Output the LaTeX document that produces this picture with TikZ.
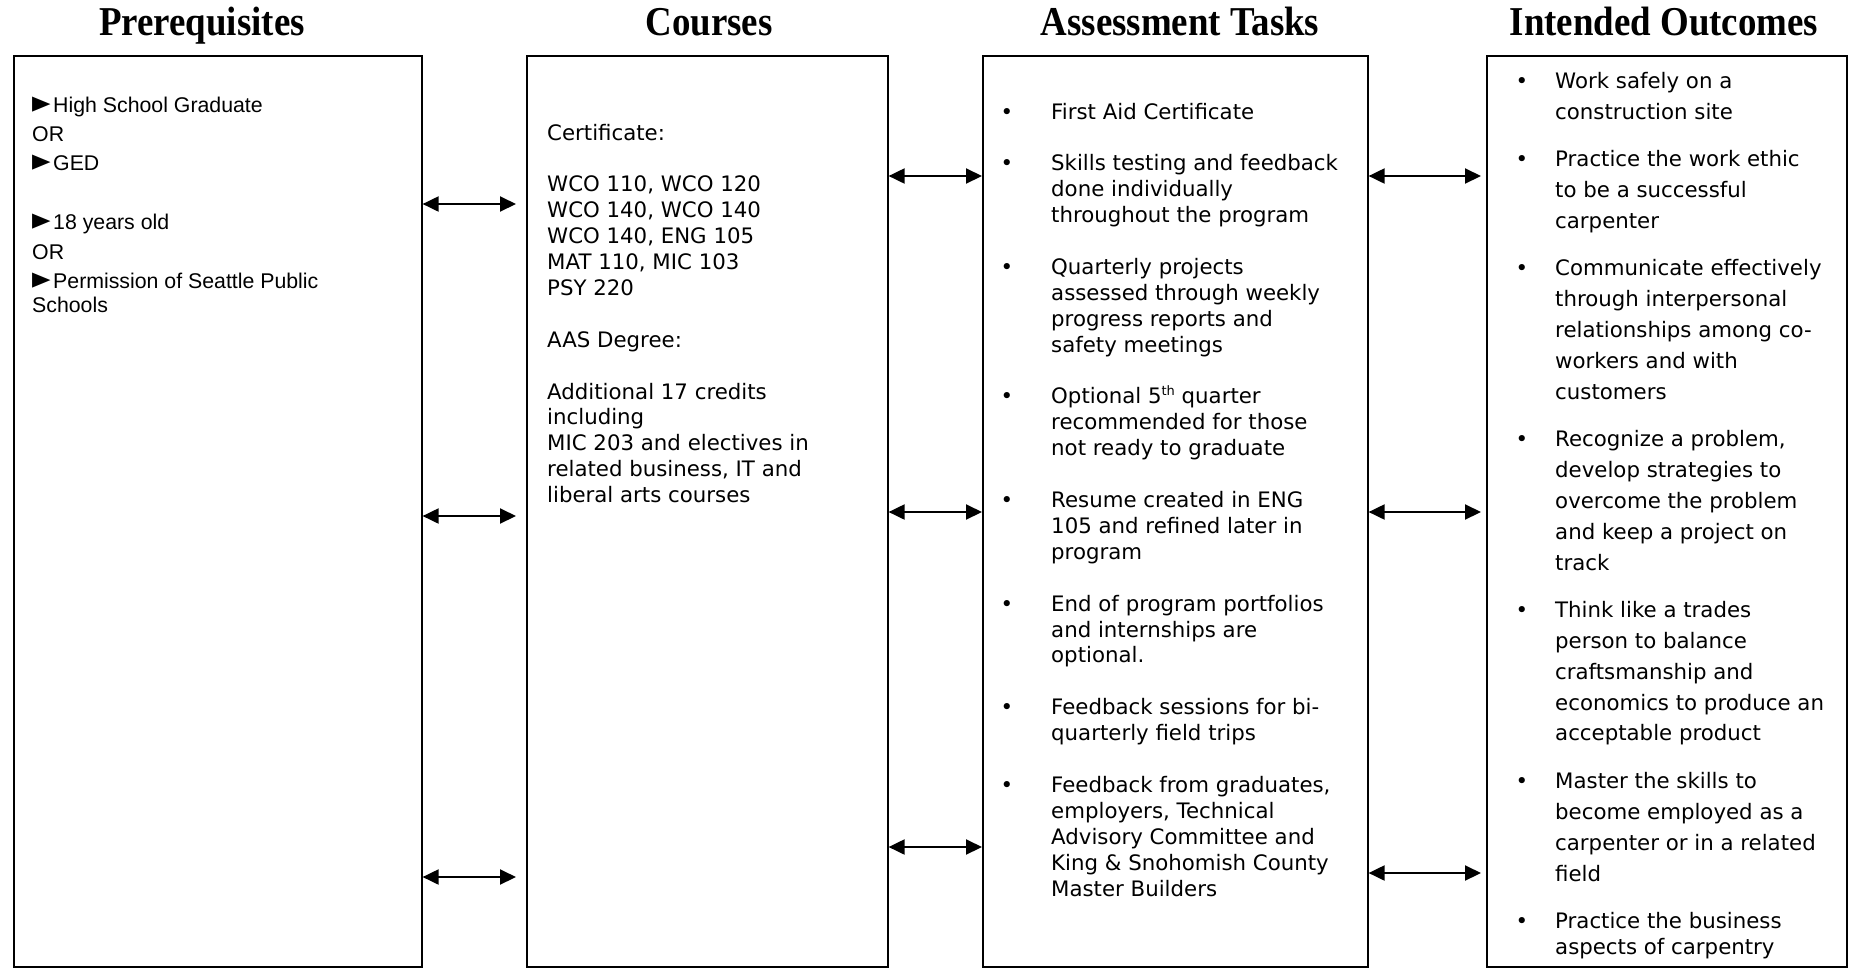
\documentclass[tikz,border=0pt]{standalone}
\usepackage{fontspec}
\usepackage{graphicx}
\setmainfont{DejaVu Sans}
\newfontfamily\arialf{Liberation Sans}
\newfontfamily\titlef{Liberation Serif}[FakeStretch=0.9]
\usetikzlibrary{arrows.meta,calc}
\newcommand{\ptr}{\makebox[21pt][l]{\rmfamily\resizebox{18.5pt}{15.5pt}{►}}}
\begin{document}
\begin{tikzpicture}[x=1pt,y=-1pt,
  box/.style={draw,line width=1.6pt,anchor=north west,inner sep=0pt},
  heading/.style={font=\titlef\bfseries\fontsize{41}{41}\selectfont,anchor=base,inner sep=0pt},
  ln/.style={anchor=base west,inner sep=0pt,font=\fontsize{21.3}{25.9}\selectfont},
  pl/.style={anchor=base west,inner sep=0pt,font=\arialf\fontsize{21.3}{25}\selectfont},
  bul/.style={anchor=base,inner sep=0pt,font=\fontsize{21.3}{25.9}\selectfont},
  link/.style={line width=2pt,{Triangle[length=16pt,width=15pt]}-{Triangle[length=16pt,width=15pt]}}
]
\useasboundingbox (0,0) rectangle (1850,967);
\fill[white] (0,0) rectangle (1850,967);

% headings
\node[heading] (h1) at (202,35) {Prerequisites};
\node[heading] (h2) at (709,35) {Courses};
\node[heading] (h3) at (1180,35) {Assessment Tasks};
\node[heading] (h4) at (1664,35) {Intended Outcomes};

% boxes
\node[box,minimum width=408pt,minimum height=911pt] (pre) at (13,55) {};
\node[box,minimum width=361pt,minimum height=911pt] (cou) at (526,55) {};
\node[box,minimum width=385pt,minimum height=911pt] (ass) at (982,55) {};
\node[box,minimum width=360pt,minimum height=911pt] (out) at (1486,55) {};

% prerequisites text
\foreach \y/\t [count=\i] in {112/{\ptr High School Graduate}, 141/OR, 170/{\ptr GED},
  229/{\ptr 18 years old}, 259/OR, 288/{\ptr Permission of Seattle Public}, 312/Schools}
  \node[pl] (pre-\i) at (32,\y) {\t};

% courses text
\foreach \k/\t [count=\i] in {0/{Certificate:}, 2/{WCO 110, WCO 120}, 3/{WCO 140, WCO 140},
  4/{WCO 140, ENG 105}, 5/{MAT 110, MIC 103}, 6/{PSY 220}, 8/{AAS Degree:},
  10/{Additional 17 credits}, 11/{including}, 12/{MIC 203 and electives in},
  13/{related business, IT and}, 14/{liberal arts courses}}
  \node[ln] (cou-\i) at (547,{140+25.9*\k}) {\t};

% assessment text
\foreach \k/\t [count=\i] in {0/{First Aid Certificate}, 2/{Skills testing and feedback},
  3/{done individually}, 4/{throughout the program}, 6/{Quarterly projects},
  7/{assessed through weekly}, 8/{progress reports and}, 9/{safety meetings},
  11/{Optional 5\raisebox{8pt}{\fontsize{13}{13}\selectfont th} quarter},
  12/{recommended for those}, 13/{not ready to graduate},
  15/{Resume created in ENG}, 16/{105 and refined later in}, 17/{program},
  19/{End of program portfolios}, 20/{and internships are}, 21/{optional.},
  23/{Feedback sessions for bi-}, 24/{quarterly field trips},
  26/{Feedback from graduates,}, 27/{employers, Technical}, 28/{Advisory Committee and},
  29/{King \& Snohomish County}, 30/{Master Builders}}
  \node[ln] (ass-\i) at (1051,{119+25.9*\k}) {\t};
\foreach \k [count=\i] in {0,2,6,11,15,19,23,26}
  \node[bul] (assb-\i) at (1007,{119+25.9*\k}) {•};

% outcomes text
\foreach \y/\t [count=\i] in {88/{Work safely on a}, 119/{construction site},
  166/{Practice the work ethic}, 197/{to be a successful}, 228/{carpenter},
  275/{Communicate effectively}, 306/{through interpersonal}, 337/{relationships among co-},
  368/{workers and with}, 399/{customers},
  446/{Recognize a problem,}, 477/{develop strategies to}, 508/{overcome the problem},
  539/{and keep a project on}, 570/{track},
  617/{Think like a trades}, 648/{person to balance}, 679/{craftsmanship and},
  710/{economics to produce an}, 740/{acceptable product},
  788/{Master the skills to}, 819/{become employed as a}, 850/{carpenter or in a related},
  881/{field}, 928/{Practice the business}, 954/{aspects of carpentry}}
  \node[ln] (out-\i) at (1555,\y) {\t};
\foreach \y [count=\i] in {88,166,275,446,617,788,928}
  \node[bul] (outb-\i) at (1522,\y) {•};

% connectors
\coordinate (a1) at (0,204);
\coordinate (a2) at (0,516);
\coordinate (a3) at (0,877);
\coordinate (b1) at (0,176);
\coordinate (b2) at (0,512);
\coordinate (b3) at (0,847);
\coordinate (c1) at (0,176);
\coordinate (c2) at (0,512);
\coordinate (c3) at (0,873);
\foreach \a in {a1,a2,a3}
  \draw[link] (pre.east |- \a) -- ($(cou.west |- \a)+(-10,0)$);
\foreach \b in {b1,b2,b3}
  \draw[link] (cou.east |- \b) -- (ass.west |- \b);
\foreach \c in {c1,c2,c3}
  \draw[link] (ass.east |- \c) -- ($(out.west |- \c)+(-5,0)$);
\end{tikzpicture}
\end{document}
